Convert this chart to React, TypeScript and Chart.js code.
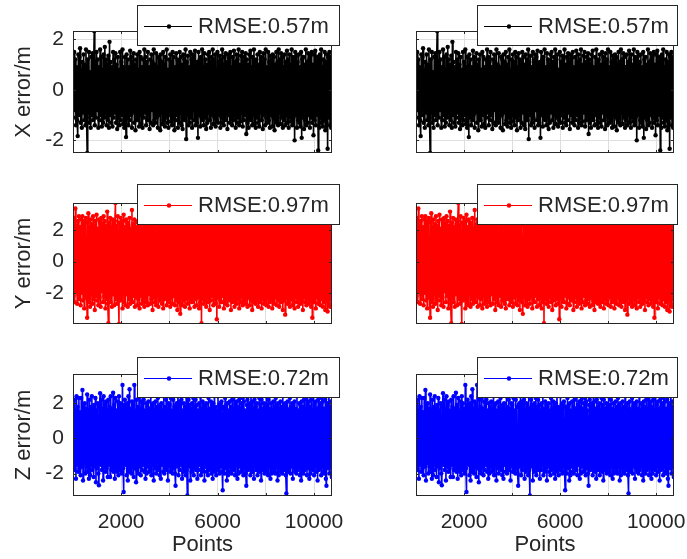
import React, { useEffect, useRef } from 'react';
import { Chart, registerables } from 'chart.js';

Chart.register(...registerables);

// ---------------- data ----------------
const X_TICKS = [2000, 4000, 6000, 8000, 10000];
const X_TICK_LABELS = ['2000', '', '6000', '', '10000'];
const Y_TICKS = [-2, 0, 2];
const X_MIN = 1;
const X_MAX = 10745;
const SAMPLE_STEP = 24.45; // point-index spacing of the plotted samples

const X_ERROR = [
  1.3, -1.1, 1.5, -0.8, 1.2, -1.4, 0.9, -1.2, -1.83, 1.4,
  -1.0, 1.3, 1.65, -1.3, 0.8, -1.5, 1.1, -0.9, 1.4, -1.2,
  1.0, -1.4, 1.6, -1.1, -2.5, 1.2, -0.9, 1.5, -1.3, 0.7,
  -1.5, 1.3, -1.0, 1.45, -1.2, 0.9, 2.33, -1.4, 1.1, -1.1,
  1.5, -0.8, 1.2, -1.5, 0.9, -1.2, 1.6, -1.0, 1.3, -1.45,
  0.8, -1.3, 1.4, -1.1, 1.7, -0.9, 1.2, -1.4, 1.0, -1.2,
  1.35, -1.5, 1.9, -1.0, 1.1, -1.3, 0.9, -1.45, 1.5, -1.1,
  1.2, -0.9, 1.45, -1.3, 1.0, -1.55, 1.3, -1.1, 0.8, -1.4,
  1.5, -1.2, 1.1, -1.0, 1.6, -1.35, 0.9, -1.5, 1.3, -0.8,
  -1.87, 1.4, -1.1, 1.2, -1.4, 0.9, -1.2, 1.55, -1.0, 1.3,
  -1.5, 1.1, -0.9, 1.45, -1.3, 1.0, -1.6, 1.2, -1.1, 1.4,
  -1.2, 0.8, -1.45, 1.5, -1.0, 1.3, -1.35, 0.9, -1.5, 1.2,
  -1.1, 1.6, -0.9, 1.3, -1.4, 1.1, -1.2, 1.5, -1.0, 0.9,
  -1.55, 1.2, -1.3, 1.4, -0.8, 1.1, -1.4, 1.6, -1.2, 1.0,
  -1.3, 1.45, -1.1, 0.9, -1.5, 1.3, -1.0, 1.2, -1.6, 1.4,
  -0.9, 1.1, -1.35, 1.5, -1.2, 1.0, -1.45, 1.3, -1.1, 1.6,
  -1.3, 0.8, -1.5, 1.2, -1.0, 1.4, -1.25, 1.1, -1.4, 1.5,
  -1.1, 1.3, -1.6, 0.9, -1.2, 1.45, -1.0, 1.2, -1.5, 1.1,
  -1.3, 1.5, -0.9, 1.3, -1.4, 1.0, -1.55, 1.4, -1.1, 1.2,
  -1.2, 1.6, -1.95, 1.1, -1.0, 1.35, -1.4, 0.9, -1.3, 1.5,
  -1.1, 1.2, -1.5, 1.4, -0.8, 1.3, -1.2, 1.55, -1.4, 1.0,
  -1.3, 1.1, -1.9, 1.5, -1.0, 1.2, -1.45, 1.3, -1.1, 1.6,
  -1.2, 0.9, -1.4, 1.45, -1.1, 1.2, -1.55, 1.0, -1.3, 1.4,
  -0.9, 1.5, -1.2, 1.1, -1.5, 1.3, -1.0, 1.6, -1.35, 1.2,
  -1.1, 1.4, -1.45, 0.8, -1.2, 1.5, -1.3, 1.1, -1.0, 1.35,
  -1.5, 1.2, -1.1, 1.6, -1.3, 1.0, -1.4, 1.3, -1.2, 1.45,
  -0.9, 1.1, -1.55, 1.4, -1.0, 1.25, -1.3, 1.5, -1.15, 0.9,
  -1.4, 1.3, -1.2, 1.55, -1.0, 1.1, -1.5, 1.4, -1.3, 1.2,
  -1.1, 1.6, -1.4, 1.0, -1.25, 1.35, -0.9, 1.5, -1.45, 1.1,
  -1.2, 1.3, -1.0, 1.45, -1.75, 1.2, -1.3, 1.0, -1.5, 1.4,
  -1.1, 1.55, -1.2, 0.9, -1.4, 1.3, -1.0, 1.6, -1.35, 1.1,
  -1.5, 1.2, -1.1, 1.4, -1.3, 1.0, -1.45, 1.5, -0.9, 1.3,
  -1.2, 1.1, -1.55, 1.45, -1.0, 1.2, -1.4, 1.6, -1.1, 0.9,
  -1.3, 1.5, -1.2, 1.1, -1.5, 1.35, -1.0, 1.2, -1.45, 1.4,
  -1.1, 1.3, -1.6, 1.0, -1.2, 1.5, -1.3, 1.1, -1.4, 1.6,
  -0.9, 1.2, -1.35, 1.45, -1.1, 1.3, -1.5, 0.9, -1.2, 1.4,
  -1.4, 1.1, -1.0, 1.55, -1.3, 1.2, -1.5, 1.4, -1.1, 1.0,
  -1.25, 1.6, -1.4, 1.3, -1.1, 1.2, -2.0, 1.5, -1.0, 1.35,
  -1.5, 1.1, -1.2, 1.4, -1.3, 0.9, -1.45, 1.5, -1.9, 1.2,
  -1.1, 1.3, -1.55, 1.0, -1.2, 1.6, -1.4, 1.1, -1.3, 1.45,
  -1.0, 1.2, -1.5, 1.35, -1.1, 1.5, -1.3, 1.0, -1.8, 1.4,
  -1.2, 1.55, -1.4, 1.1, -1.0, 1.3, -2.4, 1.2, -1.5, 1.4,
  -1.1, 1.6, -1.3, 0.9, -1.45, 1.2, -1.2, 1.5, -1.6, 1.1,
  -1.3, 1.4, -2.33, 1.3, -1.1, 1.5, -1.4, 1.2, -1.5, 1.3,
];

const Y_ERROR = [
  2.5, -2.2, 2.8, -2.6, 3.4, -1.9, 2.3, -2.7, 2.6, -2.1,
  2.9, -2.4, 2.2, -2.8, 2.7, -2.0, 2.9, -2.5, 2.4, -3.0,
  2.6, -2.3, 2.8, -1.8, -3.6, 2.5, 3.1, -2.6, 2.2, -2.9,
  2.7, -2.1, 2.4, -2.7, 2.9, -2.4, 2.3, -3.1, 2.6, -2.2,
  3.0, -2.5, 2.1, -2.8, 2.7, -2.3, 2.5, -2.9, 2.8, -1.9,
  2.4, -2.6, 2.9, -2.2, 2.6, -3.0, 2.3, -2.4, 3.2, -2.7,
  -3.95, 2.5, -2.3, 2.8, -2.6, 2.2, -2.9, 2.7, -2.1, 2.4,
  -2.8, 2.6, 3.75, -2.4, 2.3, -2.7, 2.9, -2.2, -4.0, 2.5,
  -2.5, 2.8, -2.3, 2.4, -3.0, 2.6, 3.0, -2.6, 2.2, -2.8,
  2.7, -2.1, 2.5, -2.9, 2.3, -2.4, 2.8, -2.7, 2.1, -2.5,
  3.3, -2.6, 2.4, -2.2, 2.7, -2.9, 2.5, -2.3, 2.2, -2.8,
  2.6, -2.4, 2.3, -3.0, 2.5, -2.2, 2.4, -2.7, 2.1, -2.5,
  2.4, -2.9, 2.2, -2.3, 2.6, -2.6, 2.3, -2.8, 2.5, -2.1,
  2.3, -2.7, 2.5, -2.4, 2.2, -3.1, 2.6, -2.3, 2.4, -2.6,
  2.1, -2.8, 2.5, -2.2, 2.3, -2.9, 2.4, -2.5, 2.6, -2.3,
  2.2, -2.7, 2.5, -3.0, 2.3, -2.4, 2.6, -2.2, 2.4, -2.8,
  2.3, -2.5, 2.5, -2.6, 2.2, -2.9, 2.4, -2.3, 2.6, -2.7,
  2.4, -2.2, 2.3, -2.8, 2.5, -2.5, 2.2, -3.1, 2.6, -2.4,
  2.3, -2.6, -3.35, 2.4, -2.3, 2.5, -2.8, 2.2, -2.5, 2.6,
  -2.9, 2.3, -2.4, 2.5, -2.7, 2.2, -2.3, 2.6, -3.0, 2.4,
  -2.5, 2.3, -2.6, 2.5, -2.2, 2.4, -2.9, 2.6, -2.4, 2.2,
  -2.8, 2.5, -2.3, 2.4, -3.0, 2.3, -2.6, 2.5, -3.95, 2.2,
  -2.4, 2.6, -2.7, 2.3, -2.5, 2.4, -2.9, 2.2, -2.3, 2.5,
  -2.6, 2.4, -3.1, 2.3, -2.5, 2.6, -2.2, 2.4, -2.8, 2.3,
  -2.4, 2.5, -2.7, 2.2, -3.7, 2.6, -2.3, 2.4, -2.9, 2.5,
  -2.5, 2.3, -2.6, 2.4, -2.2, 2.5, -3.0, 2.3, -2.7, 2.6,
  -2.3, 2.4, -2.8, 2.2, -2.5, 2.6, -2.4, 2.3, -3.1, 2.5,
  -2.6, 2.4, -2.3, 2.5, -2.9, 2.2, -2.5, 2.6, -2.7, 2.3,
  -2.4, 2.5, -3.0, 2.3, -2.6, 2.4, -2.2, 2.6, -2.8, 2.4,
  -2.5, 2.3, -2.7, 2.5, -2.4, 2.2, -2.9, 2.6, -2.3, 2.4,
  -2.8, 2.5, -2.5, 2.3, -3.1, 2.4, -2.6, 2.2, -2.4, 2.6,
  -2.7, 2.3, -2.5, 2.4, -2.9, 2.5, -2.3, 2.6, -2.6, 2.2,
  -3.0, 2.4, -2.4, 2.5, -2.7, 2.3, -2.5, 2.6, -2.8, 2.4,
  -2.3, 2.5, -2.9, 2.2, -2.6, 2.4, -2.4, 2.6, -3.0, 2.3,
  -2.5, 2.4, -2.7, 2.5, -2.3, 2.6, -2.8, 2.3, -2.5, 2.4,
  -2.9, 2.2, -2.4, 2.5, -2.6, 2.4, -3.1, 2.3, -2.5, 2.6,
  -3.4, 2.4, -2.3, 2.5, -2.7, 2.2, -2.6, 2.6, -2.9, 2.3,
  -2.4, 2.5, -2.8, 2.4, -2.5, 2.3, -3.0, 2.6, -2.3, 2.4,
  -2.6, 2.5, -2.9, 2.2, -2.4, 2.6, -2.7, 2.3, -2.5, 2.4,
  -3.1, 2.5, -2.3, 2.4, -2.6, 2.6, -2.8, 2.2, -2.4, 2.5,
  -2.7, 2.3, -2.5, 2.6, -2.9, 2.4, -3.6, 2.5, -2.4, 2.3,
  -2.6, 2.4, -3.0, 2.5, -2.3, 2.6, -2.7, 2.2, -2.5, 2.4,
  -2.8, 2.6, -2.4, 2.3, -2.9, 2.5, -2.6, 2.4, -3.1, 2.2,
  -2.5, 2.6, -3.2, 2.4, -2.7, 2.3, -2.9, 2.5, -2.4, 2.6,
];

const Z_ERROR = [
  1.9, -1.6, 2.2, -1.8, 1.6, -2.3, 2.4, -1.5, 1.8, -1.9,
  2.3, -1.7, 1.5, -2.1, 2.3, -1.6, 2.76, -2.4, 1.9, -1.4,
  2.0, -2.0, 1.7, -1.6, 2.5, -1.9, 1.6, -2.3, 2.2, -2.1,
  1.8, -1.5, 2.4, -1.8, 1.7, -2.2, 1.9, -1.6, 2.3, -2.5,
  1.6, -1.7, 2.0, -2.0, -2.67, 1.8, 2.57, -1.5, 2.2, -1.8,
  1.7, -2.4, 2.4, -1.6, 1.9, -1.9, 2.1, -1.7, 1.6, -2.2,
  2.2, -1.5, 1.8, -2.2, 2.4, -1.8, 1.7, -1.6, 2.6, -1.9,
  1.9, -2.3, 2.3, -1.7, 1.6, -1.9, 2.1, -2.1, 2.4, -1.6,
  2.0, -1.8, 1.7, -2.0, 3.05, -1.7, -3.05, 1.9, 2.2, -1.5,
  1.8, -2.1, 2.0, -2.4, 2.4, -1.9, 2.8, -1.8, 1.7, -2.0,
  2.1, -1.6, 1.9, -2.2, 3.05, -1.7, 1.6, -2.5, 2.2, -1.8,
  1.8, -2.0, 2.3, -1.6, 1.7, -2.1, 2.1, -1.8, 2.4, -1.5,
  2.2, -1.9, 1.6, -2.3, 2.0, -2.0, 1.8, -1.6, 2.1, -1.9,
  1.7, -1.8, 2.4, -2.1, 1.9, -1.5, 2.0, -2.4, 1.6, -1.7,
  2.1, -2.0, 1.8, -1.6, 2.3, -1.8, 1.7, -2.1, 1.9, -2.3,
  2.0, -1.5, 1.6, -1.9, 2.4, -2.0, 1.8, -1.7, 2.2, -1.8,
  1.7, -2.4, 2.0, -1.6, 1.9, -1.9, 2.3, -1.8, 1.6, -2.0,
  2.2, -1.7, 1.8, -2.0, -2.7, 1.9, 2.0, -1.6, 2.4, -2.1,
  2.1, -1.8, 1.9, -1.5, 2.2, -2.3, 1.6, -1.9, 2.0, -1.7,
  1.8, -2.1, 2.4, -1.8, -3.25, 1.7, 2.2, -1.6, 1.9, -2.4,
  1.7, -1.9, 2.0, -1.7, 2.3, -2.1, 1.8, -1.6, 2.2, -1.8,
  1.9, -2.3, 1.6, -1.8, 2.0, -1.5, 2.4, -2.1, 1.7, -1.9,
  2.1, -1.7, 1.9, -2.4, 1.8, -1.6, 2.0, -1.9, 1.6, -2.1,
  2.3, -1.8, 1.7, -1.7, 2.1, -2.0, 1.9, -2.3, 2.0, -1.8,
  3.6, -1.9, 1.8, -2.1, 1.6, -1.7, 2.4, -1.8, 1.9, -2.0,
  2.0, -1.6, 2.1, -1.9, -2.95, 1.8, 1.7, -2.0, 2.3, -1.7,
  1.9, -2.4, 2.0, -2.1, 1.6, -1.6, 2.1, -1.9, 1.8, -2.0,
  2.2, -1.7, 1.7, -1.8, 2.4, -2.1, 1.9, -1.5, 2.1, -2.3,
  1.8, -2.0, 2.2, -1.6, 1.7, -1.9, 2.0, -1.8, 2.3, -2.1,
  2.1, -1.7, 1.6, -2.0, -2.7, 1.9, 2.2, -1.8, 1.8, -1.6,
  2.0, -2.1, 2.4, -1.7, 2.1, -1.9, 1.7, -2.3, 2.2, -1.6,
  1.8, -1.8, 2.0, -2.1, 1.6, -1.7, 2.3, -1.9, 1.9, -2.4,
  2.2, -1.6, 1.7, -1.8, 2.0, -2.0, 1.8, -1.7, 2.4, -1.9,
  1.9, -2.1, 2.2, -1.6, 1.7, -2.3, 2.0, -2.0, 1.6, -1.7,
  2.1, -1.9, 1.8, -2.0, 2.3, -1.6, 1.9, -2.4, 2.0, -2.1,
  1.7, -1.7, 2.1, -1.9, 1.8, -2.0, 2.4, -1.6, 1.9, -1.8,
  2.0, -2.1, -3.13, 1.7, 2.1, -1.9, 1.6, -1.8, 2.3, -2.0,
  1.8, -1.6, 2.0, -2.3, 1.9, -1.7, 2.1, -1.9, 1.7, -2.0,
  2.4, -1.8, 1.6, -1.6, 2.0, -2.1, 1.9, -2.4, 2.1, -1.9,
  1.8, -2.0, 2.2, -1.8, 1.7, -1.6, 2.3, -2.1, 1.9, -1.7,
  2.1, -2.3, 1.8, -2.0, 2.2, -1.7, 1.6, -1.8, 2.4, -2.1,
  1.9, -1.6, 2.1, -1.9, 1.7, -2.4, 2.2, -1.8, 1.8, -1.7,
  2.0, -2.1, 2.3, -1.6, 2.1, -1.9, 1.7, -2.0, 2.2, -2.3,
  -2.7, 1.8, 2.0, -1.7, 2.4, -2.0, 2.1, -1.6, 1.8, -2.2,
];

const SERIES = [X_ERROR, Y_ERROR, Z_ERROR];
const AXIS_TITLES = ['X error/m', 'Y error/m', 'Z error/m'];
const RMSE_LABELS = ['RMSE:0.57m', 'RMSE:0.97m', 'RMSE:0.72m'];
const SERIES_COLORS = ['#000000', '#ff0000', '#0000ff'];
const Y_MINS = [-2.5, -4.0, -3.28];
const Y_MAXS = [2.33, 3.75, 3.67];

// ---------------- layout (page pixels) ----------------
const FONT = "'Liberation Sans', Arial, Helvetica, sans-serif";
const TEXT = '#262626';
const GRID = '#dfdfdf';

const ROWS = [
  { canvasTop: 0, canvasH: 175, top: 31, bottom: 153, legendTop: 5 },
  { canvasTop: 175, canvasH: 175, top: 203, bottom: 324, legendTop: 184 },
  { canvasTop: 350, canvasH: 209, top: 374, bottom: 496, legendTop: 357 },
];
const COLS = [
  { canvasLeft: 0, canvasW: 343, left: 73, right: 332, legendLeft: 137, legendW: 203 },
  { canvasLeft: 343, canvasW: 344, left: 416, right: 674, legendLeft: 477, legendW: 201 },
];
const LEGEND_H = 41;

const boxPlugin = {
  id: 'matlabBox',
  afterDatasetsDraw(chart: any) {
    const { ctx, chartArea: a } = chart;
    const xs = chart.scales.x;
    const ys = chart.scales.y;
    ctx.save();
    ctx.strokeStyle = TEXT;
    ctx.lineWidth = 1;
    ctx.strokeRect(a.left + 0.5, a.top + 0.5, a.right - a.left - 1, a.bottom - a.top - 1);
    ctx.beginPath();
    const tl = 3;
    for (const t of xs.ticks) {
      const px = Math.round(xs.getPixelForValue(t.value)) + 0.5;
      ctx.moveTo(px, a.bottom);
      ctx.lineTo(px, a.bottom - tl);
      ctx.moveTo(px, a.top);
      ctx.lineTo(px, a.top + tl);
    }
    for (const t of ys.ticks) {
      const py = Math.round(ys.getPixelForValue(t.value)) + 0.5;
      ctx.moveTo(a.left, py);
      ctx.lineTo(a.left + tl, py);
      ctx.moveTo(a.right, py);
      ctx.lineTo(a.right - tl, py);
    }
    ctx.stroke();
    ctx.restore();
  },
};

const legendPlugin = {
  id: 'boxLegend',
  afterDraw(chart: any, _args: any, opts: any) {
    if (!opts || !opts.text) return;
    const { ctx } = chart;
    const { x, y, w, h, text, color } = opts;
    ctx.save();
    ctx.fillStyle = '#ffffff';
    ctx.fillRect(x, y, w, h);
    ctx.strokeStyle = TEXT;
    ctx.lineWidth = 1;
    ctx.strokeRect(x + 0.5, y + 0.5, w - 1, h - 1);
    const cy = Math.round(y + h / 2) + 0.5;
    ctx.strokeStyle = color;
    ctx.lineWidth = 1;
    ctx.beginPath();
    ctx.moveTo(x + 7, cy);
    ctx.lineTo(x + 55, cy);
    ctx.stroke();
    ctx.fillStyle = color;
    ctx.beginPath();
    ctx.arc(x + 32, cy, 2.2, 0, Math.PI * 2);
    ctx.fill();
    ctx.fillStyle = TEXT;
    ctx.font = `22px ${FONT}`;
    ctx.textBaseline = 'middle';
    ctx.textAlign = 'left';
    ctx.fillText(text, x + 61, y + h / 2 + 1);
    ctx.restore();
  },
};

function Subplot({ row, col }: { row: number; col: number }) {
  const ref = useRef<HTMLCanvasElement | null>(null);
  const r = ROWS[row];
  const c = COLS[col];
  const isBottom = row === 2;
  const isLeft = col === 0;

  useEffect(() => {
    if (!ref.current) return;
    const values = SERIES[row];
    const color = SERIES_COLORS[row];
    const data = values.map((v, i) => ({ x: X_MIN + i * SAMPLE_STEP, y: v }));
    const padTop = r.top - r.canvasTop;
    const padRight = c.canvasLeft + c.canvasW - c.right;
    const xHeight = r.canvasTop + r.canvasH - r.bottom;
    const yWidth = c.left - c.canvasLeft;

    const chart = new Chart(ref.current, {
      type: 'line',
      data: {
        datasets: [
          {
            data,
            borderColor: color,
            backgroundColor: color,
            borderWidth: 1.6,
            pointRadius: 2.2,
            pointBorderWidth: 0,
            pointBackgroundColor: color,
            tension: 0,
            fill: false,
            clip: 0,
          } as any,
        ],
      },
      plugins: [boxPlugin, legendPlugin],
      options: {
        animation: false,
        responsive: false,
        devicePixelRatio: 1,
        events: [],
        layout: {
          autoPadding: false,
          padding: { left: 0, top: padTop, right: padRight, bottom: 0 },
        },
        plugins: {
          legend: { display: false },
          tooltip: { enabled: false },
          boxLegend: {
            x: c.legendLeft - c.canvasLeft,
            y: r.legendTop - r.canvasTop,
            w: c.legendW,
            h: LEGEND_H,
            text: RMSE_LABELS[row],
            color,
          },
        } as any,
        scales: {
          x: {
            type: 'linear',
            min: X_MIN,
            max: X_MAX,
            afterBuildTicks: (s: any) => {
              s.ticks = X_TICKS.map((v) => ({ value: v }));
            },
            afterFit: (s: any) => {
              s.height = xHeight;
              s.paddingLeft = 0;
              s.paddingRight = 0;
              s.paddingTop = 0;
              s.paddingBottom = 0;
            },
            ticks: {
              display: isBottom,
              autoSkip: false,
              maxRotation: 0,
              padding: 14,
              color: TEXT,
              font: { family: FONT, size: 21 },
              callback: (_v: any, i: number) => X_TICK_LABELS[i],
            },
            grid: { color: GRID, lineWidth: 1, drawTicks: false },
            border: { display: false },
            title: {
              display: isBottom,
              text: 'Points',
              color: TEXT,
              font: { family: FONT, size: 22 },
              padding: { top: 0, bottom: 1 },
            },
          },
          y: {
            type: 'linear',
            min: Y_MINS[row],
            max: Y_MAXS[row],
            afterBuildTicks: (s: any) => {
              s.ticks = Y_TICKS.map((v) => ({ value: v }));
            },
            afterFit: (s: any) => {
              s.width = yWidth;
              s.paddingLeft = 0;
              s.paddingRight = 0;
              s.paddingTop = 0;
              s.paddingBottom = 0;
            },
            ticks: {
              display: isLeft,
              padding: 9,
              color: TEXT,
              font: { family: FONT, size: 21 },
              callback: (v: any) => String(v),
            },
            grid: { color: GRID, lineWidth: 1, drawTicks: false },
            border: { display: false },
            title: {
              display: isLeft,
              text: AXIS_TITLES[row],
              color: TEXT,
              font: { family: FONT, size: 22 },
              padding: { top: 11, bottom: 0 },
            },
          },
        },
      } as any,
    });
    return () => chart.destroy();
  }, [row, col]);

  return (
    <canvas
      ref={ref}
      width={c.canvasW}
      height={r.canvasH}
      style={{
        position: 'absolute',
        left: c.canvasLeft,
        top: r.canvasTop,
        width: c.canvasW,
        height: r.canvasH,
      }}
    />
  );
}

export default function App() {
  const cells: { row: number; col: number }[] = [];
  for (let row = 0; row < 3; row++) for (let col = 0; col < 2; col++) cells.push({ row, col });
  return (
    <div
      style={{
        position: 'absolute',
        left: 0,
        top: 0,
        width: 687,
        height: 559,
        background: '#ffffff',
        overflow: 'hidden',
      }}
    >
      {cells.map(({ row, col }) => (
        <Subplot key={`${row}-${col}`} row={row} col={col} />
      ))}
    </div>
  );
}
